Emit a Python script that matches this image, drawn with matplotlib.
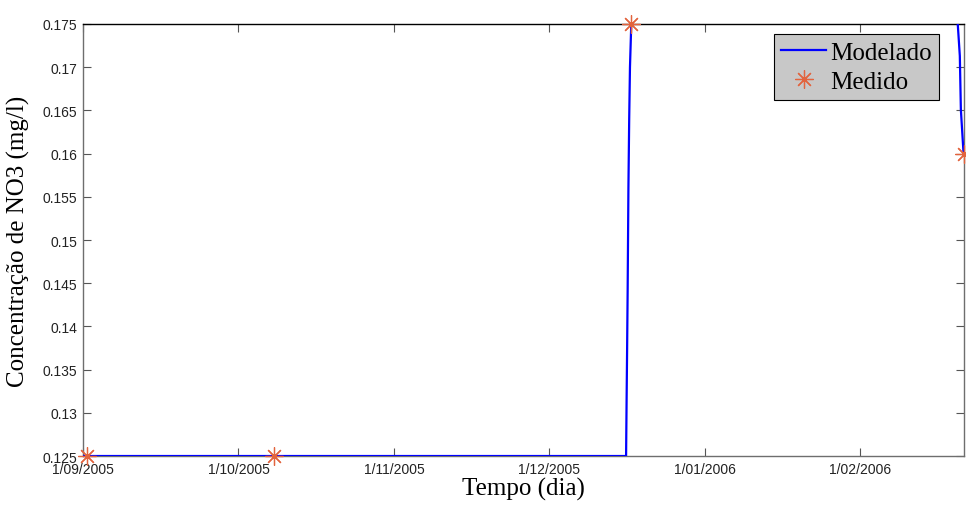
import numpy as np
import matplotlib
matplotlib.use('Agg')
import matplotlib.pyplot as plt
from matplotlib.ticker import FuncFormatter

# --- data (x in days from 1/09/2005, ticks every 30 days) ---
model_days = [0, 104.8, 104.9, 105.0, 105.1, 105.25, 105.4, 105.55, 105.8, 106.3,
              168.5, 168.8, 169.2, 169.4, 169.9, 170.0]
model_no3 = [0.125, 0.125, 0.1315, 0.1375, 0.144, 0.156, 0.164, 0.170, 0.175, 0.19,
             0.19, 0.175, 0.1713, 0.1651, 0.1602, 0.160]
meas_days = [0.77, 36.9, 105.8, 170.0]
meas_no3 = [0.125, 0.125, 0.175, 0.160]
xtick_pos = [0, 30, 60, 90, 120, 150]
xtick_labels = ['1/09/2005', '1/10/2005', '1/11/2005', '1/12/2005', '1/01/2006', '1/02/2006']
yticks = np.arange(0.125, 0.1751, 0.005)

fig = plt.figure(figsize=(9.66, 5.06), dpi=100)
ax = fig.add_axes([0.0859, 0.0968, 0.912, 0.8538])

ax.plot(model_days, model_no3, color='#0000ff', linewidth=1.6, label='Modelado', zorder=3)
ax.plot(meas_days, meas_no3, linestyle='none', marker=(8, 2, 0), markersize=13,
        markeredgewidth=0.9, color='#e2643e', label='Medido', zorder=4, clip_on=False)

ax.set_xlim(0, 170)
ax.set_ylim(0.125, 0.175)
ax.set_xticks(xtick_pos)
ax.set_xticklabels(xtick_labels)
ax.set_yticks(yticks)
ax.yaxis.set_major_formatter(FuncFormatter(lambda v, p: '%g' % round(v, 3)))

for lab in ax.get_xticklabels() + ax.get_yticklabels():
    lab.set_family('Liberation Sans')
    lab.set_fontsize(10)
    lab.set_color('#222222')
ax.tick_params(direction='in', length=6, width=0.8, color='#555555',
               top=True, right=True, pad=4)

for side in ['left', 'bottom', 'right']:
    ax.spines[side].set_color('#6e6e6e')
ax.spines['top'].set_color('black')
for s in ax.spines.values():
    s.set_linewidth(1.0)

ax.set_xlabel('Tempo (dia)', family='Liberation Serif', fontsize=18, labelpad=1)
ax.set_ylabel('Concentração de NO3 (mg/l)', family='Liberation Serif', fontsize=18, labelpad=9)

leg = ax.legend(loc='upper right', bbox_to_anchor=(0.9716, 0.977), borderaxespad=0,
                prop={'family': 'Liberation Serif', 'size': 18}, fancybox=False,
                framealpha=1, facecolor='#c8c8c8', edgecolor='black',
                handlelength=1.8, handletextpad=0.15, borderpad=0.3, labelspacing=0.25)
leg.get_frame().set_linewidth(0.8)

fig.savefig('out.png', dpi=100)
